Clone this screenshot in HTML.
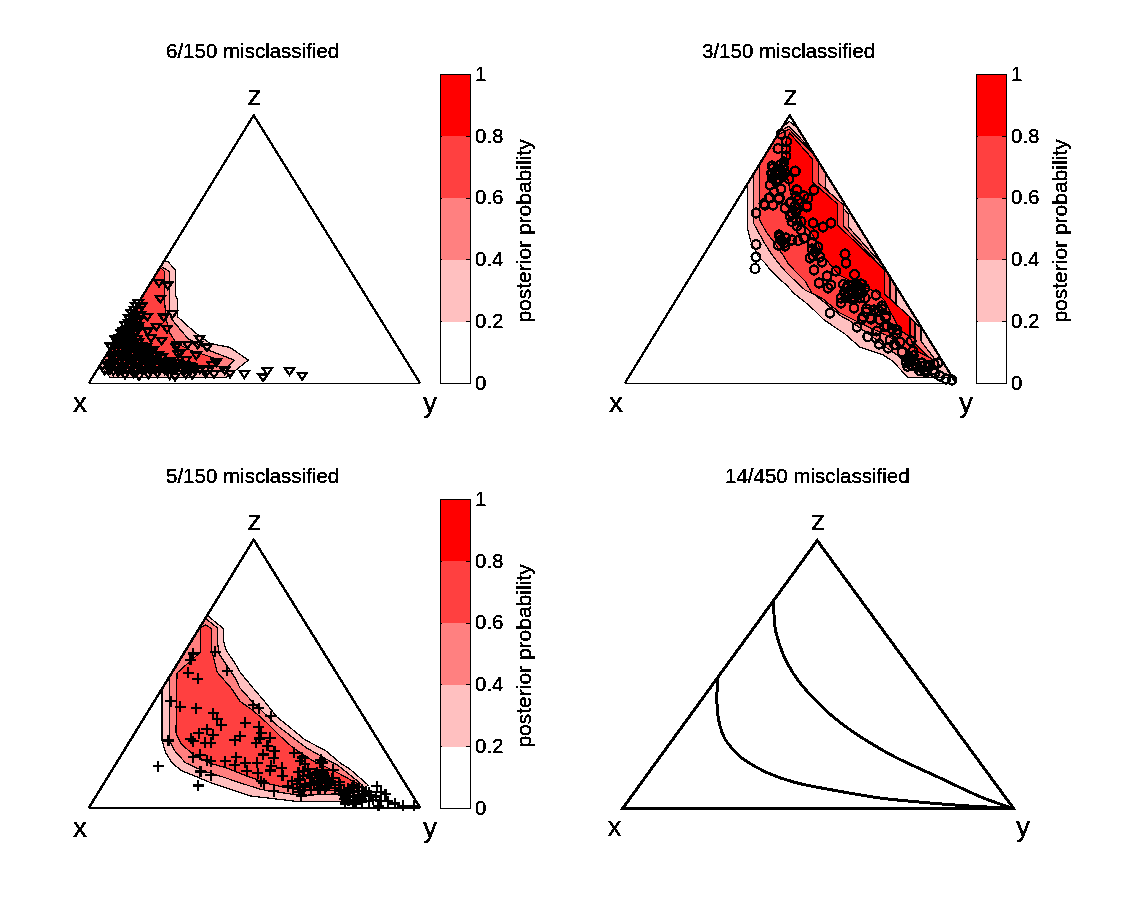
<!DOCTYPE html>
<html><head><meta charset="utf-8"><title>posterior probability</title>
<style>html,body{margin:0;padding:0;background:#fff;}svg{display:block;}</style></head>
<body><svg width="1125" height="900" viewBox="0 0 1125 900" font-family="'Liberation Sans', Arial, Helvetica, sans-serif" fill="#000">
<defs><filter id="tf" x="-5%" y="-20%" width="110%" height="140%"><feComponentTransfer><feFuncA type="discrete" tableValues="0 1 1 1"/></feComponentTransfer></filter><filter id="mf" x="-3%" y="-3%" width="106%" height="106%"><feComponentTransfer><feFuncA type="discrete" tableValues="0 1 1"/></feComponentTransfer></filter></defs>
<rect width="1125" height="900" fill="#fff"/>
<text filter="url(#tf)" x="166" y="58" font-size="20.5">6/150 misclassified</text><clipPath id="cp0"><polygon points="88.7,384.0 420.3,384.0 253.7,115.2"/></clipPath><g clip-path="url(#cp0)"><polygon points="160.0,261.0 168.0,261.5 175.6,270.5 175.6,296.0 177.5,299.0 177.5,316.7 195.3,332.7 210.0,343.5 230.0,347.4 248.3,360.1 230.6,374.5 226.0,377.3 110.0,377.3 99.5,364.5 95.0,364.5" fill="#ffc0c0" stroke="#000" stroke-width="1.25" stroke-linejoin="round" shape-rendering="crispEdges"/><polygon points="158.0,264.5 169.2,271.4 169.2,311.0 171.3,318.7 188.0,338.7 208.9,350.3 234.2,360.1 228.4,366.2 222.0,371.0 115.0,371.0 103.0,361.0 100.0,356.0" fill="#ff8080" stroke="#000" stroke-width="1.25" stroke-linejoin="round" shape-rendering="crispEdges"/><polygon points="160.6,267.5 164.4,271.4 164.4,300.0 166.0,318.0 169.3,332.0 176.0,343.0 190.0,350.0 205.0,355.0 221.0,360.4 215.0,366.0 120.0,367.0 108.0,356.0 136.0,300.0 156.6,267.5" fill="#ff4040" stroke="#000" stroke-width="1.25" stroke-linejoin="round" shape-rendering="crispEdges"/></g><path d="M88.7 383.5H420.3" stroke="#000" stroke-width="1" shape-rendering="crispEdges"/><path d="M88.7 383.5L253.7 115.2L420.3 383.5" fill="none" stroke="#000" stroke-width="2.3" stroke-linejoin="round" shape-rendering="crispEdges"/><path d="M154.4 279.9h9.2L159.0 286.5ZM163.1 282.5h9.2L167.7 289.1ZM155.7 295.9h9.2L160.3 302.5ZM168.0 311.2h9.2L172.6 317.8ZM159.1 314.5h9.2L163.7 321.1ZM142.7 313.9h9.2L147.3 320.5ZM151.7 323.9h9.2L156.3 330.5ZM162.4 325.9h9.2L167.0 332.5ZM143.1 328.5h9.2L147.7 335.1ZM146.4 335.2h9.2L151.0 341.8ZM157.1 337.9h9.2L161.7 344.5ZM172.4 341.9h9.2L177.0 348.5ZM183.1 341.9h9.2L187.7 348.5ZM195.1 335.9h9.2L199.7 342.5ZM193.1 341.9h9.2L197.7 348.5ZM202.4 344.5h9.2L207.0 351.1ZM191.7 352.5h9.2L196.3 359.1ZM175.7 349.9h9.2L180.3 356.5ZM211.8 359.5h9.2L216.4 366.1ZM220.1 367.4h9.2L224.7 374.0ZM239.8 371.2h9.2L244.4 377.8ZM262.7 368.3h9.2L267.3 374.9ZM258.5 374.4h9.2L263.1 381.0ZM284.9 368.3h9.2L289.5 374.9ZM297.6 372.9h9.2L302.2 379.5ZM207.4 362.2h9.2L212.0 368.8ZM200.4 367.2h9.2L205.0 373.8ZM185.4 363.2h9.2L190.0 369.8ZM181.4 357.2h9.2L186.0 363.8ZM171.4 344.2h9.2L176.0 350.8ZM173.4 351.2h9.2L178.0 357.8ZM165.4 358.2h9.2L170.0 364.8ZM160.4 361.2h9.2L165.0 367.8ZM180.4 367.2h9.2L185.0 373.8ZM190.4 367.2h9.2L195.0 373.8ZM129.1 370.7h9.2L133.7 377.3ZM143.7 371.7h9.2L148.3 378.3ZM153.1 370.2h9.2L157.7 376.8ZM165.1 372.2h9.2L169.7 378.8ZM170.4 373.7h9.2L175.0 380.3ZM181.1 371.2h9.2L185.7 377.8ZM187.7 372.2h9.2L192.3 378.8ZM201.1 370.7h9.2L205.7 377.3ZM113.4 369.2h9.2L118.0 375.8ZM120.4 371.7h9.2L125.0 378.3ZM209.4 371.2h9.2L214.0 377.8ZM225.4 370.7h9.2L230.0 377.3ZM134.4 373.2h9.2L139.0 379.8ZM133.7 300.3h9.2L138.3 306.9ZM131.4 303.3h9.2L136.0 309.9ZM137.1 303.6h9.2L141.7 310.2ZM129.6 306.8h9.2L134.2 313.4ZM134.5 307.5h9.2L139.1 314.1ZM126.5 310.0h9.2L131.1 316.6ZM131.3 311.7h9.2L135.9 318.3ZM135.8 311.7h9.2L140.4 318.3ZM124.5 315.6h9.2L129.1 322.2ZM129.4 315.2h9.2L134.0 321.8ZM134.0 316.1h9.2L138.6 322.7ZM123.8 320.0h9.2L128.4 326.6ZM127.3 319.5h9.2L131.9 326.1ZM132.8 318.9h9.2L137.4 325.5ZM120.5 322.2h9.2L125.1 328.8ZM126.4 324.3h9.2L131.0 330.9ZM131.0 322.3h9.2L135.6 328.9ZM133.7 323.5h9.2L138.3 330.1ZM118.6 328.1h9.2L123.2 334.7ZM122.3 327.2h9.2L126.9 333.8ZM128.4 326.2h9.2L133.0 332.8ZM133.2 326.4h9.2L137.8 333.0ZM116.6 330.1h9.2L121.2 336.7ZM120.6 330.3h9.2L125.2 336.9ZM124.5 330.6h9.2L129.1 337.2ZM130.7 331.0h9.2L135.3 337.6ZM110.5 336.2h9.2L115.1 342.8ZM115.3 335.4h9.2L119.9 342.0ZM117.9 334.6h9.2L122.5 341.2ZM122.5 335.4h9.2L127.1 342.0ZM128.3 334.1h9.2L132.9 340.7ZM132.6 335.7h9.2L137.2 342.3ZM111.8 338.1h9.2L116.4 344.7ZM116.7 339.5h9.2L121.3 346.1ZM121.7 338.5h9.2L126.3 345.1ZM124.9 339.3h9.2L129.5 345.9ZM129.4 339.4h9.2L134.0 346.0ZM133.8 339.6h9.2L138.4 346.2ZM105.8 343.6h9.2L110.4 350.2ZM109.6 343.6h9.2L114.2 350.2ZM113.9 342.5h9.2L118.5 349.1ZM117.5 342.7h9.2L122.1 349.3ZM123.4 344.1h9.2L128.0 350.7ZM128.4 343.2h9.2L133.0 349.8ZM133.3 343.1h9.2L137.9 349.7ZM137.5 343.0h9.2L142.1 349.6ZM141.7 344.4h9.2L146.3 351.0ZM112.0 346.4h9.2L116.6 353.0ZM117.2 347.2h9.2L121.8 353.8ZM120.8 346.1h9.2L125.4 352.7ZM125.4 347.8h9.2L130.0 354.4ZM129.7 346.9h9.2L134.3 353.5ZM134.8 346.0h9.2L139.4 352.6ZM138.9 348.3h9.2L143.5 354.9ZM143.9 347.0h9.2L148.5 353.6ZM148.4 347.5h9.2L153.0 354.1ZM108.5 352.2h9.2L113.1 358.8ZM114.4 350.8h9.2L119.0 357.4ZM118.5 351.8h9.2L123.1 358.4ZM123.8 350.5h9.2L128.4 357.1ZM128.0 350.4h9.2L132.6 357.0ZM133.3 351.1h9.2L137.9 357.7ZM137.6 351.7h9.2L142.2 358.3ZM141.4 350.6h9.2L146.0 357.2ZM145.7 350.3h9.2L150.3 356.9ZM149.3 351.7h9.2L153.9 358.3ZM154.3 351.8h9.2L158.9 358.4ZM107.4 354.9h9.2L112.0 361.5ZM111.1 354.6h9.2L115.7 361.2ZM117.2 355.1h9.2L121.8 361.7ZM121.1 354.5h9.2L125.7 361.1ZM125.9 354.8h9.2L130.5 361.4ZM130.1 356.2h9.2L134.7 362.8ZM135.6 354.1h9.2L140.2 360.7ZM139.6 356.1h9.2L144.2 362.7ZM143.0 354.9h9.2L147.6 361.5ZM148.1 356.2h9.2L152.7 362.8ZM152.2 356.1h9.2L156.8 362.7ZM157.5 354.4h9.2L162.1 361.0ZM105.6 360.0h9.2L110.2 366.6ZM110.0 358.9h9.2L114.6 365.5ZM114.5 360.3h9.2L119.1 366.9ZM119.0 358.6h9.2L123.6 365.2ZM122.1 360.2h9.2L126.7 366.8ZM127.9 358.8h9.2L132.5 365.4ZM132.4 359.3h9.2L137.0 365.9ZM136.7 358.1h9.2L141.3 364.7ZM140.8 359.0h9.2L145.4 365.6ZM144.9 360.1h9.2L149.5 366.7ZM150.0 359.6h9.2L154.6 366.2ZM155.2 359.8h9.2L159.8 366.4ZM159.7 359.8h9.2L164.3 366.4ZM163.1 360.3h9.2L167.7 366.9ZM167.3 360.2h9.2L171.9 366.8ZM173.5 360.0h9.2L178.1 366.6ZM103.0 362.2h9.2L107.6 368.8ZM108.1 362.2h9.2L112.7 368.8ZM110.8 362.9h9.2L115.4 369.5ZM117.0 362.8h9.2L121.6 369.4ZM120.0 363.9h9.2L124.6 370.5ZM126.1 364.1h9.2L130.7 370.7ZM129.4 363.0h9.2L134.0 369.6ZM133.8 363.3h9.2L138.4 369.9ZM138.5 362.8h9.2L143.1 369.4ZM144.1 364.3h9.2L148.7 370.9ZM148.1 362.3h9.2L152.7 368.9ZM152.8 363.1h9.2L157.4 369.7ZM158.1 363.7h9.2L162.7 370.3ZM162.2 363.7h9.2L166.8 370.3ZM166.0 364.2h9.2L170.6 370.8ZM171.2 362.7h9.2L175.8 369.3ZM174.1 362.9h9.2L178.7 369.5ZM179.5 362.2h9.2L184.1 368.8ZM183.5 363.4h9.2L188.1 370.0ZM187.3 364.0h9.2L191.9 370.6ZM100.2 367.8h9.2L104.8 374.4ZM105.2 367.3h9.2L109.8 373.9ZM108.8 368.2h9.2L113.4 374.8ZM113.7 366.8h9.2L118.3 373.4ZM117.6 368.4h9.2L122.2 375.0ZM123.1 368.2h9.2L127.7 374.8ZM128.7 368.3h9.2L133.3 374.9ZM132.9 368.2h9.2L137.5 374.8ZM137.7 367.9h9.2L142.3 374.5ZM140.3 367.3h9.2L144.9 373.9ZM145.8 368.4h9.2L150.4 375.0ZM150.8 367.7h9.2L155.4 374.3ZM155.2 366.9h9.2L159.8 373.5ZM160.2 367.5h9.2L164.8 374.1ZM163.4 367.1h9.2L168.0 373.7ZM169.3 367.3h9.2L173.9 373.9ZM171.9 366.4h9.2L176.5 373.0ZM177.6 367.4h9.2L182.2 374.0ZM182.6 366.4h9.2L187.2 373.0ZM185.9 367.7h9.2L190.5 374.3ZM189.6 366.2h9.2L194.2 372.8ZM195.3 366.6h9.2L199.9 373.2Z" fill="none" stroke="#000" stroke-width="2.3" shape-rendering="crispEdges"/><text filter="url(#tf)" x="73" y="412" font-size="28">x</text><text filter="url(#tf)" x="423" y="412" font-size="28">y</text><text filter="url(#tf)" x="247.5" y="105" font-size="28">z</text><rect x="440.5" y="321.70" width="30.0" height="61.80" fill="#ffffff" shape-rendering="crispEdges"/><rect x="440.5" y="259.90" width="30.0" height="61.80" fill="#ffc0c0" shape-rendering="crispEdges"/><rect x="440.5" y="198.10" width="30.0" height="61.80" fill="#ff8080" shape-rendering="crispEdges"/><rect x="440.5" y="136.30" width="30.0" height="61.80" fill="#ff4040" shape-rendering="crispEdges"/><rect x="440.5" y="74.50" width="30.0" height="61.80" fill="#ff0000" shape-rendering="crispEdges"/><rect x="440.5" y="74.5" width="30.0" height="309.0" fill="none" stroke="#000" stroke-width="1" shape-rendering="crispEdges"/><text filter="url(#tf)" x="475" y="389.8" font-size="20.5">0</text><text filter="url(#tf)" x="475" y="328.0" font-size="20.5">0.2</text><path d="M466.0 321.5H470.5M440.5 321.5H442.0" stroke="#000" stroke-width="1" shape-rendering="crispEdges"/><text filter="url(#tf)" x="475" y="266.2" font-size="20.5">0.4</text><path d="M466.0 259.5H470.5M440.5 259.5H442.0" stroke="#000" stroke-width="1" shape-rendering="crispEdges"/><text filter="url(#tf)" x="475" y="204.4" font-size="20.5">0.6</text><path d="M466.0 198.5H470.5M440.5 198.5H442.0" stroke="#000" stroke-width="1" shape-rendering="crispEdges"/><text filter="url(#tf)" x="475" y="142.6" font-size="20.5">0.8</text><path d="M466.0 136.5H470.5M440.5 136.5H442.0" stroke="#000" stroke-width="1" shape-rendering="crispEdges"/><text filter="url(#tf)" x="475" y="80.8" font-size="20.5">1</text><text filter="url(#tf)" transform="translate(531,231.0) rotate(-90)" text-anchor="middle" font-size="21">posterior probability</text><text filter="url(#tf)" x="702" y="58" font-size="20.5">3/150 misclassified</text><clipPath id="cp1"><polygon points="624.7,384.0 956.3,384.0 789.7,115.2"/></clipPath><g clip-path="url(#cp1)"><polygon points="780.0,129.0 789.3,121.5 799.0,129.0 956.6,377.6 935.0,377.6 908.0,377.6 892.5,361.0 882.2,354.4 860.0,347.3 845.0,334.0 833.0,326.0 823.0,319.0 815.0,311.0 805.0,302.0 794.3,293.7 787.0,285.7 778.3,277.7 769.0,268.3 765.0,263.0 758.0,256.0 751.0,242.0 747.4,228.0 747.4,184.0" fill="#ffc0c0" stroke="#000" stroke-width="1.25" stroke-linejoin="round" shape-rendering="crispEdges"/><polygon points="774.8,134.0 789.0,126.3 803.0,141.0 825.5,168.0 825.5,188.0 848.5,214.0 848.5,227.0 896.0,280.0 896.0,305.0 921.0,328.0 921.0,341.0 940.0,366.0 925.0,372.0 911.0,369.6 899.6,356.8 885.3,346.8 870.0,335.0 860.0,328.0 850.0,321.0 841.0,316.0 824.0,302.0 815.0,295.0 805.0,290.0 801.7,287.0 791.7,277.7 785.0,271.0 778.3,263.0 771.7,254.3 765.0,244.0 760.0,235.0 753.4,223.0 753.4,177.0 748.5,177.0" fill="#ff8080" stroke="#000" stroke-width="1.25" stroke-linejoin="round" shape-rendering="crispEdges"/><polygon points="772.4,138.0 789.0,129.0 813.7,154.7 818.5,160.0 818.5,183.0 843.5,205.0 843.5,226.0 890.0,276.0 890.0,300.0 915.0,322.0 915.0,345.0 935.0,362.0 915.0,358.0 905.3,348.0 888.2,336.0 875.0,330.0 860.0,323.0 850.0,318.0 840.0,313.0 823.0,299.0 812.0,293.0 805.0,281.0 801.7,277.7 795.0,271.0 788.3,263.7 783.0,255.0 778.3,248.3 773.7,241.7 768.3,235.0 764.0,228.0 759.4,219.0 759.4,163.6 755.0,163.6" fill="#ff4040" stroke="#000" stroke-width="1.25" stroke-linejoin="round" shape-rendering="crispEdges"/><polygon points="789.7,133.0 812.5,159.0 812.5,182.0 837.5,204.0 837.5,225.0 884.5,270.0 884.5,294.0 910.0,317.0 910.0,337.0 910.0,339.0 930.0,358.0 915.0,350.0 910.0,337.0 900.0,330.0 884.0,300.0 875.0,291.0 865.0,288.0 855.0,283.0 839.0,275.0 824.0,257.0 818.0,244.0 812.0,234.0 803.0,224.0 795.0,210.0 790.0,190.0 787.0,175.0 786.0,141.0 789.7,133.0" fill="#ff0000" stroke="#000" stroke-width="1.25" stroke-linejoin="round" shape-rendering="crispEdges"/></g><path d="M624.7 383.5H956.3" stroke="#000" stroke-width="1" shape-rendering="crispEdges"/><path d="M624.7 383.5L789.7 115.2L956.3 383.5" fill="none" stroke="#000" stroke-width="2.3" stroke-linejoin="round" shape-rendering="crispEdges"/><path d="M790.6 206.0a4.4 4.4 0 1 0 8.8 0a4.4 4.4 0 1 0 -8.8 0ZM791.6 212.0a4.4 4.4 0 1 0 8.8 0a4.4 4.4 0 1 0 -8.8 0ZM791.6 219.0a4.4 4.4 0 1 0 8.8 0a4.4 4.4 0 1 0 -8.8 0ZM792.6 226.0a4.4 4.4 0 1 0 8.8 0a4.4 4.4 0 1 0 -8.8 0ZM785.6 216.0a4.4 4.4 0 1 0 8.8 0a4.4 4.4 0 1 0 -8.8 0ZM774.6 235.0a4.4 4.4 0 1 0 8.8 0a4.4 4.4 0 1 0 -8.8 0ZM776.6 240.0a4.4 4.4 0 1 0 8.8 0a4.4 4.4 0 1 0 -8.8 0ZM779.6 243.0a4.4 4.4 0 1 0 8.8 0a4.4 4.4 0 1 0 -8.8 0ZM773.6 245.0a4.4 4.4 0 1 0 8.8 0a4.4 4.4 0 1 0 -8.8 0ZM781.6 238.0a4.4 4.4 0 1 0 8.8 0a4.4 4.4 0 1 0 -8.8 0ZM810.6 252.0a4.4 4.4 0 1 0 8.8 0a4.4 4.4 0 1 0 -8.8 0ZM813.6 247.0a4.4 4.4 0 1 0 8.8 0a4.4 4.4 0 1 0 -8.8 0ZM805.6 258.0a4.4 4.4 0 1 0 8.8 0a4.4 4.4 0 1 0 -8.8 0ZM817.6 262.0a4.4 4.4 0 1 0 8.8 0a4.4 4.4 0 1 0 -8.8 0ZM862.3 308.9a4.4 4.4 0 1 0 8.8 0a4.4 4.4 0 1 0 -8.8 0ZM874.5 311.1a4.4 4.4 0 1 0 8.8 0a4.4 4.4 0 1 0 -8.8 0ZM881.2 317.8a4.4 4.4 0 1 0 8.8 0a4.4 4.4 0 1 0 -8.8 0ZM858.9 316.7a4.4 4.4 0 1 0 8.8 0a4.4 4.4 0 1 0 -8.8 0ZM866.6 319.0a4.4 4.4 0 1 0 8.8 0a4.4 4.4 0 1 0 -8.8 0ZM863.4 336.7a4.4 4.4 0 1 0 8.8 0a4.4 4.4 0 1 0 -8.8 0ZM872.3 331.0a4.4 4.4 0 1 0 8.8 0a4.4 4.4 0 1 0 -8.8 0ZM880.0 326.7a4.4 4.4 0 1 0 8.8 0a4.4 4.4 0 1 0 -8.8 0ZM887.8 328.9a4.4 4.4 0 1 0 8.8 0a4.4 4.4 0 1 0 -8.8 0ZM892.3 333.3a4.4 4.4 0 1 0 8.8 0a4.4 4.4 0 1 0 -8.8 0ZM883.4 347.8a4.4 4.4 0 1 0 8.8 0a4.4 4.4 0 1 0 -8.8 0ZM890.0 344.4a4.4 4.4 0 1 0 8.8 0a4.4 4.4 0 1 0 -8.8 0ZM897.8 352.2a4.4 4.4 0 1 0 8.8 0a4.4 4.4 0 1 0 -8.8 0ZM906.7 341.1a4.4 4.4 0 1 0 8.8 0a4.4 4.4 0 1 0 -8.8 0ZM904.5 360.0a4.4 4.4 0 1 0 8.8 0a4.4 4.4 0 1 0 -8.8 0ZM908.9 355.6a4.4 4.4 0 1 0 8.8 0a4.4 4.4 0 1 0 -8.8 0ZM765.6 197.7a4.4 4.4 0 1 0 8.8 0a4.4 4.4 0 1 0 -8.8 0ZM759.6 203.7a4.4 4.4 0 1 0 8.8 0a4.4 4.4 0 1 0 -8.8 0ZM774.9 197.7a4.4 4.4 0 1 0 8.8 0a4.4 4.4 0 1 0 -8.8 0ZM792.3 189.7a4.4 4.4 0 1 0 8.8 0a4.4 4.4 0 1 0 -8.8 0ZM791.6 196.3a4.4 4.4 0 1 0 8.8 0a4.4 4.4 0 1 0 -8.8 0ZM803.6 198.3a4.4 4.4 0 1 0 8.8 0a4.4 4.4 0 1 0 -8.8 0ZM809.6 189.7a4.4 4.4 0 1 0 8.8 0a4.4 4.4 0 1 0 -8.8 0ZM802.3 207.0a4.4 4.4 0 1 0 8.8 0a4.4 4.4 0 1 0 -8.8 0ZM790.9 171.0a4.4 4.4 0 1 0 8.8 0a4.4 4.4 0 1 0 -8.8 0ZM786.9 201.7a4.4 4.4 0 1 0 8.8 0a4.4 4.4 0 1 0 -8.8 0ZM792.9 208.3a4.4 4.4 0 1 0 8.8 0a4.4 4.4 0 1 0 -8.8 0ZM776.6 134.0a4.4 4.4 0 1 0 8.8 0a4.4 4.4 0 1 0 -8.8 0ZM782.1 141.5a4.4 4.4 0 1 0 8.8 0a4.4 4.4 0 1 0 -8.8 0ZM773.6 148.5a4.4 4.4 0 1 0 8.8 0a4.4 4.4 0 1 0 -8.8 0ZM781.6 149.0a4.4 4.4 0 1 0 8.8 0a4.4 4.4 0 1 0 -8.8 0ZM781.6 156.0a4.4 4.4 0 1 0 8.8 0a4.4 4.4 0 1 0 -8.8 0ZM779.6 162.0a4.4 4.4 0 1 0 8.8 0a4.4 4.4 0 1 0 -8.8 0ZM767.6 166.0a4.4 4.4 0 1 0 8.8 0a4.4 4.4 0 1 0 -8.8 0ZM775.6 172.0a4.4 4.4 0 1 0 8.8 0a4.4 4.4 0 1 0 -8.8 0ZM767.6 174.0a4.4 4.4 0 1 0 8.8 0a4.4 4.4 0 1 0 -8.8 0ZM790.6 171.5a4.4 4.4 0 1 0 8.8 0a4.4 4.4 0 1 0 -8.8 0ZM784.6 179.0a4.4 4.4 0 1 0 8.8 0a4.4 4.4 0 1 0 -8.8 0ZM773.6 180.0a4.4 4.4 0 1 0 8.8 0a4.4 4.4 0 1 0 -8.8 0ZM765.6 185.0a4.4 4.4 0 1 0 8.8 0a4.4 4.4 0 1 0 -8.8 0ZM776.6 189.0a4.4 4.4 0 1 0 8.8 0a4.4 4.4 0 1 0 -8.8 0ZM769.6 192.0a4.4 4.4 0 1 0 8.8 0a4.4 4.4 0 1 0 -8.8 0ZM792.6 190.0a4.4 4.4 0 1 0 8.8 0a4.4 4.4 0 1 0 -8.8 0ZM809.6 190.0a4.4 4.4 0 1 0 8.8 0a4.4 4.4 0 1 0 -8.8 0ZM799.6 196.0a4.4 4.4 0 1 0 8.8 0a4.4 4.4 0 1 0 -8.8 0ZM764.6 198.0a4.4 4.4 0 1 0 8.8 0a4.4 4.4 0 1 0 -8.8 0ZM774.6 199.0a4.4 4.4 0 1 0 8.8 0a4.4 4.4 0 1 0 -8.8 0ZM793.6 200.0a4.4 4.4 0 1 0 8.8 0a4.4 4.4 0 1 0 -8.8 0ZM760.6 205.0a4.4 4.4 0 1 0 8.8 0a4.4 4.4 0 1 0 -8.8 0ZM768.6 205.0a4.4 4.4 0 1 0 8.8 0a4.4 4.4 0 1 0 -8.8 0ZM785.6 203.0a4.4 4.4 0 1 0 8.8 0a4.4 4.4 0 1 0 -8.8 0ZM802.6 206.0a4.4 4.4 0 1 0 8.8 0a4.4 4.4 0 1 0 -8.8 0ZM780.6 208.0a4.4 4.4 0 1 0 8.8 0a4.4 4.4 0 1 0 -8.8 0ZM751.6 213.0a4.4 4.4 0 1 0 8.8 0a4.4 4.4 0 1 0 -8.8 0ZM751.6 244.5a4.4 4.4 0 1 0 8.8 0a4.4 4.4 0 1 0 -8.8 0ZM751.6 257.0a4.4 4.4 0 1 0 8.8 0a4.4 4.4 0 1 0 -8.8 0ZM750.6 268.5a4.4 4.4 0 1 0 8.8 0a4.4 4.4 0 1 0 -8.8 0ZM775.6 237.0a4.4 4.4 0 1 0 8.8 0a4.4 4.4 0 1 0 -8.8 0ZM777.6 241.0a4.4 4.4 0 1 0 8.8 0a4.4 4.4 0 1 0 -8.8 0ZM780.6 246.0a4.4 4.4 0 1 0 8.8 0a4.4 4.4 0 1 0 -8.8 0ZM787.6 240.0a4.4 4.4 0 1 0 8.8 0a4.4 4.4 0 1 0 -8.8 0ZM793.6 240.5a4.4 4.4 0 1 0 8.8 0a4.4 4.4 0 1 0 -8.8 0ZM799.6 238.0a4.4 4.4 0 1 0 8.8 0a4.4 4.4 0 1 0 -8.8 0ZM787.6 221.5a4.4 4.4 0 1 0 8.8 0a4.4 4.4 0 1 0 -8.8 0ZM787.6 213.0a4.4 4.4 0 1 0 8.8 0a4.4 4.4 0 1 0 -8.8 0ZM796.6 221.5a4.4 4.4 0 1 0 8.8 0a4.4 4.4 0 1 0 -8.8 0ZM796.6 230.0a4.4 4.4 0 1 0 8.8 0a4.4 4.4 0 1 0 -8.8 0ZM808.6 223.0a4.4 4.4 0 1 0 8.8 0a4.4 4.4 0 1 0 -8.8 0ZM818.6 227.0a4.4 4.4 0 1 0 8.8 0a4.4 4.4 0 1 0 -8.8 0ZM826.6 223.0a4.4 4.4 0 1 0 8.8 0a4.4 4.4 0 1 0 -8.8 0ZM809.6 235.0a4.4 4.4 0 1 0 8.8 0a4.4 4.4 0 1 0 -8.8 0ZM807.6 243.0a4.4 4.4 0 1 0 8.8 0a4.4 4.4 0 1 0 -8.8 0ZM807.6 249.0a4.4 4.4 0 1 0 8.8 0a4.4 4.4 0 1 0 -8.8 0ZM808.6 256.0a4.4 4.4 0 1 0 8.8 0a4.4 4.4 0 1 0 -8.8 0ZM815.6 257.0a4.4 4.4 0 1 0 8.8 0a4.4 4.4 0 1 0 -8.8 0ZM809.6 270.0a4.4 4.4 0 1 0 8.8 0a4.4 4.4 0 1 0 -8.8 0ZM822.6 276.0a4.4 4.4 0 1 0 8.8 0a4.4 4.4 0 1 0 -8.8 0ZM814.6 283.0a4.4 4.4 0 1 0 8.8 0a4.4 4.4 0 1 0 -8.8 0ZM826.6 285.0a4.4 4.4 0 1 0 8.8 0a4.4 4.4 0 1 0 -8.8 0ZM831.6 271.0a4.4 4.4 0 1 0 8.8 0a4.4 4.4 0 1 0 -8.8 0ZM823.6 288.0a4.4 4.4 0 1 0 8.8 0a4.4 4.4 0 1 0 -8.8 0ZM840.6 254.0a4.4 4.4 0 1 0 8.8 0a4.4 4.4 0 1 0 -8.8 0ZM841.6 263.0a4.4 4.4 0 1 0 8.8 0a4.4 4.4 0 1 0 -8.8 0ZM850.1 274.5a4.4 4.4 0 1 0 8.8 0a4.4 4.4 0 1 0 -8.8 0ZM843.6 285.0a4.4 4.4 0 1 0 8.8 0a4.4 4.4 0 1 0 -8.8 0ZM851.6 285.0a4.4 4.4 0 1 0 8.8 0a4.4 4.4 0 1 0 -8.8 0ZM856.6 284.0a4.4 4.4 0 1 0 8.8 0a4.4 4.4 0 1 0 -8.8 0ZM847.6 292.0a4.4 4.4 0 1 0 8.8 0a4.4 4.4 0 1 0 -8.8 0ZM855.6 293.0a4.4 4.4 0 1 0 8.8 0a4.4 4.4 0 1 0 -8.8 0ZM871.6 295.0a4.4 4.4 0 1 0 8.8 0a4.4 4.4 0 1 0 -8.8 0ZM836.6 298.0a4.4 4.4 0 1 0 8.8 0a4.4 4.4 0 1 0 -8.8 0ZM836.6 303.0a4.4 4.4 0 1 0 8.8 0a4.4 4.4 0 1 0 -8.8 0ZM849.6 308.0a4.4 4.4 0 1 0 8.8 0a4.4 4.4 0 1 0 -8.8 0ZM825.6 313.0a4.4 4.4 0 1 0 8.8 0a4.4 4.4 0 1 0 -8.8 0ZM861.6 312.0a4.4 4.4 0 1 0 8.8 0a4.4 4.4 0 1 0 -8.8 0ZM869.6 310.0a4.4 4.4 0 1 0 8.8 0a4.4 4.4 0 1 0 -8.8 0ZM877.6 309.0a4.4 4.4 0 1 0 8.8 0a4.4 4.4 0 1 0 -8.8 0ZM857.6 319.0a4.4 4.4 0 1 0 8.8 0a4.4 4.4 0 1 0 -8.8 0ZM865.6 318.0a4.4 4.4 0 1 0 8.8 0a4.4 4.4 0 1 0 -8.8 0ZM875.6 320.0a4.4 4.4 0 1 0 8.8 0a4.4 4.4 0 1 0 -8.8 0ZM852.6 327.0a4.4 4.4 0 1 0 8.8 0a4.4 4.4 0 1 0 -8.8 0ZM881.6 316.0a4.4 4.4 0 1 0 8.8 0a4.4 4.4 0 1 0 -8.8 0ZM882.6 326.0a4.4 4.4 0 1 0 8.8 0a4.4 4.4 0 1 0 -8.8 0ZM892.6 330.0a4.4 4.4 0 1 0 8.8 0a4.4 4.4 0 1 0 -8.8 0ZM871.6 312.0a4.4 4.4 0 1 0 8.8 0a4.4 4.4 0 1 0 -8.8 0ZM877.6 306.0a4.4 4.4 0 1 0 8.8 0a4.4 4.4 0 1 0 -8.8 0ZM906.6 341.0a4.4 4.4 0 1 0 8.8 0a4.4 4.4 0 1 0 -8.8 0ZM885.6 340.0a4.4 4.4 0 1 0 8.8 0a4.4 4.4 0 1 0 -8.8 0ZM895.6 342.0a4.4 4.4 0 1 0 8.8 0a4.4 4.4 0 1 0 -8.8 0ZM883.6 348.0a4.4 4.4 0 1 0 8.8 0a4.4 4.4 0 1 0 -8.8 0ZM897.6 352.0a4.4 4.4 0 1 0 8.8 0a4.4 4.4 0 1 0 -8.8 0ZM908.6 351.0a4.4 4.4 0 1 0 8.8 0a4.4 4.4 0 1 0 -8.8 0ZM905.6 358.0a4.4 4.4 0 1 0 8.8 0a4.4 4.4 0 1 0 -8.8 0ZM910.6 364.0a4.4 4.4 0 1 0 8.8 0a4.4 4.4 0 1 0 -8.8 0ZM917.6 363.0a4.4 4.4 0 1 0 8.8 0a4.4 4.4 0 1 0 -8.8 0ZM923.6 366.0a4.4 4.4 0 1 0 8.8 0a4.4 4.4 0 1 0 -8.8 0ZM929.6 364.0a4.4 4.4 0 1 0 8.8 0a4.4 4.4 0 1 0 -8.8 0ZM933.6 363.0a4.4 4.4 0 1 0 8.8 0a4.4 4.4 0 1 0 -8.8 0ZM921.6 372.0a4.4 4.4 0 1 0 8.8 0a4.4 4.4 0 1 0 -8.8 0ZM930.6 373.0a4.4 4.4 0 1 0 8.8 0a4.4 4.4 0 1 0 -8.8 0ZM935.6 376.0a4.4 4.4 0 1 0 8.8 0a4.4 4.4 0 1 0 -8.8 0ZM941.6 379.0a4.4 4.4 0 1 0 8.8 0a4.4 4.4 0 1 0 -8.8 0ZM947.6 380.0a4.4 4.4 0 1 0 8.8 0a4.4 4.4 0 1 0 -8.8 0ZM871.6 338.0a4.4 4.4 0 1 0 8.8 0a4.4 4.4 0 1 0 -8.8 0ZM874.6 344.0a4.4 4.4 0 1 0 8.8 0a4.4 4.4 0 1 0 -8.8 0ZM776.2 164.6a4.4 4.4 0 1 0 8.8 0a4.4 4.4 0 1 0 -8.8 0ZM768.9 168.2a4.4 4.4 0 1 0 8.8 0a4.4 4.4 0 1 0 -8.8 0ZM772.8 169.4a4.4 4.4 0 1 0 8.8 0a4.4 4.4 0 1 0 -8.8 0ZM778.8 167.6a4.4 4.4 0 1 0 8.8 0a4.4 4.4 0 1 0 -8.8 0ZM767.3 173.2a4.4 4.4 0 1 0 8.8 0a4.4 4.4 0 1 0 -8.8 0ZM770.9 172.6a4.4 4.4 0 1 0 8.8 0a4.4 4.4 0 1 0 -8.8 0ZM775.9 172.9a4.4 4.4 0 1 0 8.8 0a4.4 4.4 0 1 0 -8.8 0ZM780.5 173.3a4.4 4.4 0 1 0 8.8 0a4.4 4.4 0 1 0 -8.8 0ZM768.1 178.0a4.4 4.4 0 1 0 8.8 0a4.4 4.4 0 1 0 -8.8 0ZM774.3 178.4a4.4 4.4 0 1 0 8.8 0a4.4 4.4 0 1 0 -8.8 0ZM778.1 176.6a4.4 4.4 0 1 0 8.8 0a4.4 4.4 0 1 0 -8.8 0ZM772.0 181.6a4.4 4.4 0 1 0 8.8 0a4.4 4.4 0 1 0 -8.8 0ZM901.8 362.4a4.4 4.4 0 1 0 8.8 0a4.4 4.4 0 1 0 -8.8 0ZM905.7 361.7a4.4 4.4 0 1 0 8.8 0a4.4 4.4 0 1 0 -8.8 0ZM909.2 360.5a4.4 4.4 0 1 0 8.8 0a4.4 4.4 0 1 0 -8.8 0ZM903.1 366.3a4.4 4.4 0 1 0 8.8 0a4.4 4.4 0 1 0 -8.8 0ZM907.5 365.6a4.4 4.4 0 1 0 8.8 0a4.4 4.4 0 1 0 -8.8 0ZM913.1 367.0a4.4 4.4 0 1 0 8.8 0a4.4 4.4 0 1 0 -8.8 0ZM917.3 366.4a4.4 4.4 0 1 0 8.8 0a4.4 4.4 0 1 0 -8.8 0ZM920.7 365.5a4.4 4.4 0 1 0 8.8 0a4.4 4.4 0 1 0 -8.8 0ZM915.2 370.4a4.4 4.4 0 1 0 8.8 0a4.4 4.4 0 1 0 -8.8 0ZM919.8 370.3a4.4 4.4 0 1 0 8.8 0a4.4 4.4 0 1 0 -8.8 0ZM922.5 370.8a4.4 4.4 0 1 0 8.8 0a4.4 4.4 0 1 0 -8.8 0ZM928.4 370.0a4.4 4.4 0 1 0 8.8 0a4.4 4.4 0 1 0 -8.8 0ZM839.1 284.4a4.4 4.4 0 1 0 8.8 0a4.4 4.4 0 1 0 -8.8 0ZM843.7 285.3a4.4 4.4 0 1 0 8.8 0a4.4 4.4 0 1 0 -8.8 0ZM848.0 285.1a4.4 4.4 0 1 0 8.8 0a4.4 4.4 0 1 0 -8.8 0ZM852.5 284.9a4.4 4.4 0 1 0 8.8 0a4.4 4.4 0 1 0 -8.8 0ZM857.5 284.3a4.4 4.4 0 1 0 8.8 0a4.4 4.4 0 1 0 -8.8 0ZM842.1 288.2a4.4 4.4 0 1 0 8.8 0a4.4 4.4 0 1 0 -8.8 0ZM847.6 289.9a4.4 4.4 0 1 0 8.8 0a4.4 4.4 0 1 0 -8.8 0ZM850.3 288.8a4.4 4.4 0 1 0 8.8 0a4.4 4.4 0 1 0 -8.8 0ZM854.9 288.6a4.4 4.4 0 1 0 8.8 0a4.4 4.4 0 1 0 -8.8 0ZM860.3 288.3a4.4 4.4 0 1 0 8.8 0a4.4 4.4 0 1 0 -8.8 0ZM840.2 292.6a4.4 4.4 0 1 0 8.8 0a4.4 4.4 0 1 0 -8.8 0ZM843.7 294.1a4.4 4.4 0 1 0 8.8 0a4.4 4.4 0 1 0 -8.8 0ZM848.7 293.3a4.4 4.4 0 1 0 8.8 0a4.4 4.4 0 1 0 -8.8 0ZM853.5 293.5a4.4 4.4 0 1 0 8.8 0a4.4 4.4 0 1 0 -8.8 0ZM857.6 292.6a4.4 4.4 0 1 0 8.8 0a4.4 4.4 0 1 0 -8.8 0ZM841.8 297.7a4.4 4.4 0 1 0 8.8 0a4.4 4.4 0 1 0 -8.8 0ZM847.0 298.3a4.4 4.4 0 1 0 8.8 0a4.4 4.4 0 1 0 -8.8 0ZM850.3 297.5a4.4 4.4 0 1 0 8.8 0a4.4 4.4 0 1 0 -8.8 0ZM855.3 298.0a4.4 4.4 0 1 0 8.8 0a4.4 4.4 0 1 0 -8.8 0ZM860.7 298.0a4.4 4.4 0 1 0 8.8 0a4.4 4.4 0 1 0 -8.8 0Z" fill="none" stroke="#000" stroke-width="2" filter="url(#mf)"/><text filter="url(#tf)" x="609" y="412" font-size="28">x</text><text filter="url(#tf)" x="959" y="412" font-size="28">y</text><text filter="url(#tf)" x="783.5" y="105" font-size="28">z</text><rect x="976.5" y="321.70" width="30.0" height="61.80" fill="#ffffff" shape-rendering="crispEdges"/><rect x="976.5" y="259.90" width="30.0" height="61.80" fill="#ffc0c0" shape-rendering="crispEdges"/><rect x="976.5" y="198.10" width="30.0" height="61.80" fill="#ff8080" shape-rendering="crispEdges"/><rect x="976.5" y="136.30" width="30.0" height="61.80" fill="#ff4040" shape-rendering="crispEdges"/><rect x="976.5" y="74.50" width="30.0" height="61.80" fill="#ff0000" shape-rendering="crispEdges"/><rect x="976.5" y="74.5" width="30.0" height="309.0" fill="none" stroke="#000" stroke-width="1" shape-rendering="crispEdges"/><text filter="url(#tf)" x="1011" y="389.8" font-size="20.5">0</text><text filter="url(#tf)" x="1011" y="328.0" font-size="20.5">0.2</text><path d="M1002.0 321.5H1006.5M976.5 321.5H978.0" stroke="#000" stroke-width="1" shape-rendering="crispEdges"/><text filter="url(#tf)" x="1011" y="266.2" font-size="20.5">0.4</text><path d="M1002.0 259.5H1006.5M976.5 259.5H978.0" stroke="#000" stroke-width="1" shape-rendering="crispEdges"/><text filter="url(#tf)" x="1011" y="204.4" font-size="20.5">0.6</text><path d="M1002.0 198.5H1006.5M976.5 198.5H978.0" stroke="#000" stroke-width="1" shape-rendering="crispEdges"/><text filter="url(#tf)" x="1011" y="142.6" font-size="20.5">0.8</text><path d="M1002.0 136.5H1006.5M976.5 136.5H978.0" stroke="#000" stroke-width="1" shape-rendering="crispEdges"/><text filter="url(#tf)" x="1011" y="80.8" font-size="20.5">1</text><text filter="url(#tf)" transform="translate(1067,231.0) rotate(-90)" text-anchor="middle" font-size="21">posterior probability</text><text filter="url(#tf)" x="166" y="482.5" font-size="20.5">5/150 misclassified</text><clipPath id="cp2"><polygon points="88.7,808.5 420.3,808.5 253.7,539.7"/></clipPath><g clip-path="url(#cp2)"><polygon points="204.0,616.2 208.3,616.2 223.4,628.7 223.4,640.0 226.0,650.0 235.0,663.3 240.0,672.0 252.0,686.7 266.7,704.0 277.3,717.3 290.7,728.0 305.3,740.0 325.4,750.4 340.4,763.1 349.7,768.9 368.2,785.1 355.5,795.5 340.4,801.3 300.0,801.8 250.7,796.0 222.7,786.7 210.7,782.7 194.7,776.0 181.3,770.7 172.0,762.7 165.3,752.0 162.0,740.0 162.0,688.6 158.0,688.6" fill="#ffc0c0" stroke="#000" stroke-width="1.25" stroke-linejoin="round" shape-rendering="crispEdges"/><polygon points="202.0,619.3 206.6,619.3 217.2,627.8 217.2,640.0 219.0,653.6 235.0,677.6 240.0,688.0 250.7,700.0 264.0,713.0 278.7,726.7 296.0,740.0 306.7,748.0 323.1,757.4 338.1,765.4 350.0,775.0 362.4,785.1 352.0,793.2 300.0,795.5 260.0,789.3 240.0,782.7 220.0,776.0 202.7,770.7 185.3,762.7 174.7,750.7 169.3,740.0 169.3,676.7 165.0,676.7" fill="#ff8080" stroke="#000" stroke-width="1.25" stroke-linejoin="round" shape-rendering="crispEdges"/><polygon points="205.7,624.7 211.4,628.7 211.4,649.0 217.2,672.2 230.6,687.3 240.0,701.3 253.3,710.7 266.7,722.7 280.0,736.0 293.3,748.0 309.3,758.7 325.3,766.7 341.3,774.7 358.0,784.0 348.0,790.0 300.0,790.5 269.3,784.0 246.7,776.0 226.7,768.0 208.0,762.7 193.3,754.7 181.3,744.0 176.0,733.0 177.0,673.0 200.8,651.8 200.8,627.8" fill="#ff4040" stroke="#000" stroke-width="1.25" stroke-linejoin="round" shape-rendering="crispEdges"/></g><path d="M88.7 808H420.3" stroke="#000" stroke-width="2" shape-rendering="crispEdges"/><path d="M88.7 808L253.7 539.7L420.3 808" fill="none" stroke="#000" stroke-width="2.5" stroke-linejoin="round" shape-rendering="crispEdges"/><path d="M253.9 738.6h11.0M259.4 733.1v11.0M264.6 737.7h11.0M270.1 732.2v11.0M261.9 745.7h11.0M267.4 740.2v11.0M269.1 751.0h11.0M274.6 745.5v11.0M257.5 754.6h11.0M263.0 749.1v11.0M268.2 758.1h11.0M273.7 752.6v11.0M265.5 765.7h11.0M271.0 760.2v11.0M276.2 767.9h11.0M281.7 762.4v11.0M264.6 770.6h11.0M270.1 765.1v11.0M252.2 773.2h11.0M257.7 767.7v11.0M277.1 775.9h11.0M282.6 770.4v11.0M258.4 783.0h11.0M263.9 777.5v11.0M268.2 791.0h11.0M273.7 785.5v11.0M288.6 752.8h11.0M294.1 747.3v11.0M294.8 760.8h11.0M300.3 755.3v11.0M299.3 764.3h11.0M304.8 758.8v11.0M302.8 768.8h11.0M308.3 763.3v11.0M293.1 772.3h11.0M298.6 766.8v11.0M286.8 781.2h11.0M292.3 775.7v11.0M293.9 779.4h11.0M299.4 773.9v11.0M297.5 775.9h11.0M303.0 770.4v11.0M304.6 775.0h11.0M310.1 769.5v11.0M311.7 772.3h11.0M317.2 766.8v11.0M317.1 762.6h11.0M322.6 757.1v11.0M317.1 770.6h11.0M322.6 765.1v11.0M327.7 769.7h11.0M333.2 764.2v11.0M322.4 777.7h11.0M327.9 772.2v11.0M325.1 783.0h11.0M330.6 777.5v11.0M311.7 781.2h11.0M317.2 775.7v11.0M304.6 783.0h11.0M310.1 777.5v11.0M299.3 786.6h11.0M304.8 781.1v11.0M293.9 791.9h11.0M299.4 786.4v11.0M295.7 795.4h11.0M301.2 789.9v11.0M287.7 788.3h11.0M293.2 782.8v11.0M282.4 786.6h11.0M287.9 781.1v11.0M314.4 788.3h11.0M319.9 782.8v11.0M320.6 786.6h11.0M326.1 781.1v11.0M333.9 784.8h11.0M339.4 779.3v11.0M338.4 791.9h11.0M343.9 786.4v11.0M342.8 788.3h11.0M348.3 782.8v11.0M339.3 799.0h11.0M344.8 793.5v11.0M347.3 797.2h11.0M352.8 791.7v11.0M187.7 653.6h11.0M193.2 648.1v11.0M185.1 659.8h11.0M190.6 654.3v11.0M182.8 672.7h11.0M188.3 667.2v11.0M192.2 678.9h11.0M197.7 673.4v11.0M209.5 651.8h11.0M215.0 646.3v11.0M221.5 670.9h11.0M227.0 665.4v11.0M162.9 740.5h11.0M168.4 735.0v11.0M152.5 766.3h11.0M158.0 760.8v11.0M192.5 785.6h11.0M198.0 780.1v11.0M195.1 771.4h11.0M200.6 765.9v11.0M205.4 775.3h11.0M210.9 769.8v11.0M165.2 701.3h11.0M170.7 695.8v11.0M174.5 706.7h11.0M180.0 701.2v11.0M190.5 708.0h11.0M196.0 702.5v11.0M207.8 713.3h11.0M213.3 707.8v11.0M211.8 718.7h11.0M217.3 713.2v11.0M215.8 725.3h11.0M221.3 719.8v11.0M247.8 705.3h11.0M253.3 699.8v11.0M253.2 708.0h11.0M258.7 702.5v11.0M265.2 716.0h11.0M270.7 710.5v11.0M239.8 722.7h11.0M245.3 717.2v11.0M253.2 726.7h11.0M258.7 721.2v11.0M255.8 733.3h11.0M261.3 727.8v11.0M234.5 736.0h11.0M240.0 730.5v11.0M229.2 740.0h11.0M234.7 734.5v11.0M201.2 729.3h11.0M206.7 723.8v11.0M207.8 734.7h11.0M213.3 729.2v11.0M193.2 733.3h11.0M198.7 727.8v11.0M185.2 738.7h11.0M190.7 733.2v11.0M187.8 741.3h11.0M193.3 735.8v11.0M199.8 742.7h11.0M205.3 737.2v11.0M205.2 742.7h11.0M210.7 737.2v11.0M250.5 742.7h11.0M256.0 737.2v11.0M187.8 757.3h11.0M193.3 751.8v11.0M194.5 754.7h11.0M200.0 749.2v11.0M201.2 760.0h11.0M206.7 754.5v11.0M205.2 761.3h11.0M210.7 755.8v11.0M219.8 761.3h11.0M225.3 755.8v11.0M230.5 757.3h11.0M236.0 751.8v11.0M229.2 765.3h11.0M234.7 759.8v11.0M239.8 762.7h11.0M245.3 757.2v11.0M241.2 770.7h11.0M246.7 765.2v11.0M255.8 781.3h11.0M261.3 775.8v11.0M314.5 762.7h11.0M320.0 757.2v11.0M309.2 773.3h11.0M314.7 767.8v11.0M251.8 762.7h11.0M257.3 757.2v11.0M371.3 786.2h11.0M376.8 780.7v11.0M375.4 792.0h11.0M380.9 786.5v11.0M380.0 794.3h11.0M385.5 788.8v11.0M389.3 803.6h11.0M394.8 798.1v11.0M397.3 805.9h11.0M402.8 800.4v11.0M408.3 805.9h11.0M413.8 800.4v11.0M373.1 805.9h11.0M378.6 800.4v11.0M382.3 801.3h11.0M387.8 795.8v11.0M363.8 792.0h11.0M369.3 786.5v11.0M359.2 794.3h11.0M364.7 788.8v11.0M355.7 799.0h11.0M361.2 793.5v11.0M350.0 803.6h11.0M355.5 798.1v11.0M343.0 800.1h11.0M348.5 794.6v11.0M339.6 803.6h11.0M345.1 798.1v11.0M336.1 794.3h11.0M341.6 788.8v11.0M346.5 787.4h11.0M352.0 781.9v11.0M348.8 785.1h11.0M354.3 779.6v11.0M329.2 785.1h11.0M334.7 779.6v11.0M315.3 759.7h11.0M320.8 754.2v11.0M296.8 757.4h11.0M302.3 751.9v11.0M298.0 771.2h11.0M303.5 765.7v11.0M308.4 785.1h11.0M313.9 779.6v11.0M317.6 773.5h11.0M323.1 768.0v11.0M322.2 780.5h11.0M327.7 775.0v11.0M326.9 778.2h11.0M332.4 772.7v11.0M353.2 787.1h11.0M358.7 781.6v11.0M334.9 790.5h11.0M340.4 785.0v11.0M343.5 790.5h11.0M349.0 785.0v11.0M348.5 791.4h11.0M354.0 785.9v11.0M356.2 791.0h11.0M361.7 785.5v11.0M360.5 791.2h11.0M366.0 785.7v11.0M338.0 794.9h11.0M343.5 789.4v11.0M344.1 796.6h11.0M349.6 791.1v11.0M353.1 795.2h11.0M358.6 789.7v11.0M357.7 794.5h11.0M363.2 789.0v11.0M365.4 795.4h11.0M370.9 789.9v11.0M370.4 796.4h11.0M375.9 790.9v11.0M342.4 800.8h11.0M347.9 795.3v11.0M347.7 802.3h11.0M353.2 796.8v11.0M356.3 801.6h11.0M361.8 796.1v11.0M363.2 801.2h11.0M368.7 795.7v11.0M367.8 799.8h11.0M373.3 794.3v11.0M375.1 801.1h11.0M380.6 795.6v11.0M306.0 777.7h11.0M311.5 772.2v11.0M313.6 777.3h11.0M319.1 771.8v11.0M319.1 776.5h11.0M324.6 771.0v11.0M291.5 784.0h11.0M297.0 778.5v11.0M299.4 784.3h11.0M304.9 778.8v11.0M308.4 783.2h11.0M313.9 777.7v11.0M316.0 783.0h11.0M321.5 777.5v11.0M323.6 781.6h11.0M329.1 776.1v11.0M333.6 782.2h11.0M339.1 776.7v11.0M297.9 790.2h11.0M303.4 784.7v11.0M305.3 789.8h11.0M310.8 784.3v11.0M312.7 789.7h11.0M318.2 784.2v11.0M319.4 788.9h11.0M324.9 783.4v11.0M329.5 788.1h11.0M335.0 782.6v11.0" fill="none" stroke="#000" stroke-width="2.3" shape-rendering="crispEdges"/><text filter="url(#tf)" x="73" y="836.5" font-size="28">x</text><text filter="url(#tf)" x="423" y="836.5" font-size="28">y</text><text filter="url(#tf)" x="247.5" y="529.5" font-size="28">z</text><rect x="440.5" y="746.70" width="30.0" height="61.80" fill="#ffffff" shape-rendering="crispEdges"/><rect x="440.5" y="684.90" width="30.0" height="61.80" fill="#ffc0c0" shape-rendering="crispEdges"/><rect x="440.5" y="623.10" width="30.0" height="61.80" fill="#ff8080" shape-rendering="crispEdges"/><rect x="440.5" y="561.30" width="30.0" height="61.80" fill="#ff4040" shape-rendering="crispEdges"/><rect x="440.5" y="499.50" width="30.0" height="61.80" fill="#ff0000" shape-rendering="crispEdges"/><rect x="440.5" y="499.5" width="30.0" height="309.0" fill="none" stroke="#000" stroke-width="1" shape-rendering="crispEdges"/><text filter="url(#tf)" x="475" y="814.8" font-size="20.5">0</text><text filter="url(#tf)" x="475" y="753.0" font-size="20.5">0.2</text><path d="M466.0 746.5H470.5M440.5 746.5H442.0" stroke="#000" stroke-width="1" shape-rendering="crispEdges"/><text filter="url(#tf)" x="475" y="691.2" font-size="20.5">0.4</text><path d="M466.0 684.5H470.5M440.5 684.5H442.0" stroke="#000" stroke-width="1" shape-rendering="crispEdges"/><text filter="url(#tf)" x="475" y="629.4" font-size="20.5">0.6</text><path d="M466.0 623.5H470.5M440.5 623.5H442.0" stroke="#000" stroke-width="1" shape-rendering="crispEdges"/><text filter="url(#tf)" x="475" y="567.6" font-size="20.5">0.8</text><path d="M466.0 561.5H470.5M440.5 561.5H442.0" stroke="#000" stroke-width="1" shape-rendering="crispEdges"/><text filter="url(#tf)" x="475" y="505.8" font-size="20.5">1</text><text filter="url(#tf)" transform="translate(531,656.0) rotate(-90)" text-anchor="middle" font-size="21">posterior probability</text><text filter="url(#tf)" x="725" y="482.5" font-size="20.5">14/450 misclassified</text><polygon points="622.6,808.5 1013.6,808.5 817.2,540.5" fill="none" stroke="#000" stroke-width="3" shape-rendering="crispEdges"/><path d="M773.8 601.6C773.9 605.6 773.8 618.7 774.7 625.6C775.6 632.5 777.0 637.1 779.1 643.3C781.2 649.5 783.7 656.4 787.1 662.9C790.5 669.4 794.9 676.2 799.6 682.4C804.4 688.6 809.7 694.2 815.6 700.2C821.5 706.2 827.7 712.5 835.1 718.5C842.5 724.5 850.0 730.1 860.0 736.5C870.0 742.9 882.0 750.2 894.9 756.9C907.8 763.6 923.3 770.2 937.5 776.8C951.7 783.4 967.8 791.5 980.2 796.7C992.6 801.9 1006.7 806.1 1012.0 808.0M717.8 677.1C717.6 680.4 716.9 690.9 716.9 696.7C716.9 702.5 717.0 707.1 717.5 712.0C718.0 716.9 718.8 721.5 720.0 726.0C721.2 730.5 722.8 735.1 725.0 739.0C727.2 742.9 729.8 746.0 733.0 749.5C736.2 753.0 738.5 755.9 744.1 759.7C749.8 763.5 758.4 768.7 766.9 772.5C775.4 776.3 783.4 779.4 795.3 782.5C807.1 785.6 823.8 788.4 838.0 791.0C852.2 793.6 866.4 796.2 880.6 798.1C894.8 800.0 909.1 801.1 923.3 802.4C937.5 803.7 951.2 804.8 966.0 805.8C980.8 806.8 1004.3 807.9 1012.0 808.3" fill="none" stroke="#000" stroke-width="3" shape-rendering="crispEdges"/><text filter="url(#tf)" x="607.5" y="835.5" font-size="28">x</text><text filter="url(#tf)" x="1016" y="836" font-size="28">y</text><text filter="url(#tf)" x="811" y="529.5" font-size="28">z</text>
</svg></body></html>
